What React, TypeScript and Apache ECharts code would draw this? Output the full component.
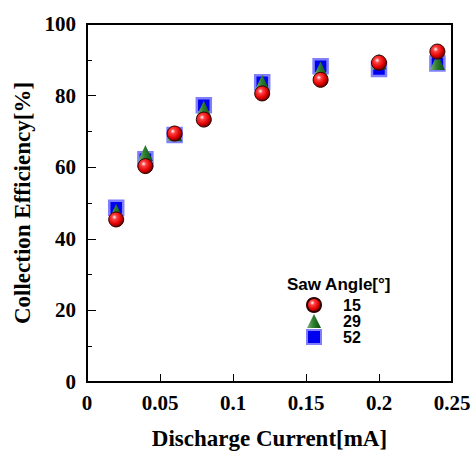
import React, { useEffect, useRef } from "react";
import * as echarts from "echarts";

const currents = [0.02, 0.04, 0.06, 0.08, 0.12, 0.16, 0.2, 0.24];
const angle15 = [45.4, 60.3, 69.4, 73.3, 80.6, 84.4, 89.2, 92.3];
const angle29 = [47.5, 64.0, 69.5, 76.3, 83.6, 87.3, 89.5, 89.4];
const angle52 = [48.7, 62.2, 69.0, 77.3, 83.7, 88.2, 87.4, 89.0];
const seriesNames = ["15", "29", "52"];
const xTicks = [0, 0.05, 0.1, 0.15, 0.2, 0.25];
const yTicks = [0, 20, 40, 60, 80, 100];

const serif = "Liberation Serif";
const sans = "Liberation Sans";

function pairs(vals: number[]) {
  return currents.map((c, i) => [c, vals[i]]);
}

export default function App() {
  const ref = useRef<HTMLDivElement>(null);
  useEffect(() => {
    if (!ref.current) return;
    const chart = echarts.init(ref.current, undefined, { renderer: "svg" });
    const redFill = new echarts.graphic.RadialGradient(0.38, 0.35, 0.65, [
      { offset: 0, color: "#ffffff" },
      { offset: 0.25, color: "#ff4040" },
      { offset: 0.7, color: "#e00000" },
      { offset: 1, color: "#700000" },
    ]);
    const greenFill = new echarts.graphic.LinearGradient(0, 0, 1, 0, [
      { offset: 0, color: "#7fb07f" },
      { offset: 0.45, color: "#2f7f2f" },
      { offset: 1, color: "#0a4a0a" },
    ]);
    chart.setOption({
      animation: false,
      grid: {
        left: 87,
        right: 22,
        top: 24,
        bottom: 67,
        show: true,
        borderColor: "#000",
        borderWidth: 2,
        backgroundColor: "transparent",
      },
      xAxis: {
        type: "value",
        min: xTicks[0],
        max: xTicks[xTicks.length - 1],
        interval: 0.05,
        name: "Discharge Current[mA]",
        nameLocation: "middle",
        nameGap: 45,
        nameTextStyle: { fontFamily: serif, fontWeight: "bold", fontSize: 23, color: "#000" },
        axisLine: { show: true, lineStyle: { color: "#000", width: 2 } },
        axisTick: { show: true, inside: true, length: 8, lineStyle: { color: "#000", width: 1 } },
        axisLabel: {
          margin: 10,
          fontFamily: serif,
          fontWeight: "bold",
          fontSize: 21,
          color: "#000",
          formatter: (v: number) => String(Number(v.toFixed(2))),
        },
        splitLine: { show: false },
      },
      yAxis: {
        type: "value",
        min: yTicks[0],
        max: yTicks[yTicks.length - 1],
        interval: 20,
        name: "Collection Efficiency[%]",
        nameLocation: "middle",
        nameGap: 52,
        nameTextStyle: { fontFamily: serif, fontWeight: "bold", fontSize: 23, color: "#000" },
        axisLine: { show: true, lineStyle: { color: "#000", width: 2 } },
        axisTick: { show: true, inside: true, length: 9, lineStyle: { color: "#000", width: 1 } },
        minorTick: { show: true, splitNumber: 2, length: 5, lineStyle: { color: "#000", width: 1 } },
        axisLabel: { margin: 11, fontFamily: serif, fontWeight: "bold", fontSize: 21, color: "#000" },
        splitLine: { show: false },
      },
      legend: {
        data: seriesNames,
        orient: "vertical",
        left: 301,
        top: 292,
        itemWidth: 14,
        itemHeight: 14,
        itemGap: 0,
        textStyle: {
          fontFamily: sans,
          fontWeight: "bold",
          fontSize: 16,
          lineHeight: 15,
          color: "#000",
          padding: [0, 0, 0, 17],
        },
      },
      graphic: [
        {
          type: "text",
          style: {
            x: 287,
            y: 284,
            text: "Saw Angle[°]",
            font: `bold 17px "${sans}"`,
            fill: "#000",
            verticalAlign: "middle",
          },
        },
      ],
      series: [
        {
          name: seriesNames[0],
          type: "scatter",
          data: pairs(angle15),
          symbol: "circle",
          symbolSize: 15,
          z: 4,
          itemStyle: { color: redFill, borderColor: "#300000", borderWidth: 1, opacity: 1 },
        },
        {
          name: seriesNames[1],
          type: "scatter",
          data: pairs(angle29),
          symbol: "triangle",
          symbolSize: [15, 16],
          z: 3,
          itemStyle: { color: greenFill, opacity: 1 },
        },
        {
          name: seriesNames[2],
          type: "scatter",
          data: pairs(angle52),
          symbol: "rect",
          symbolSize: 14,
          z: 2,
          itemStyle: { color: "#0000f0", borderColor: "#8080ff", borderWidth: 2.5, opacity: 1 },
        },
      ],
    });
    return () => chart.dispose();
  }, []);
  return <div ref={ref} style={{ width: 474, height: 455, position: "absolute", left: 0, top: 0 }} />;
}
